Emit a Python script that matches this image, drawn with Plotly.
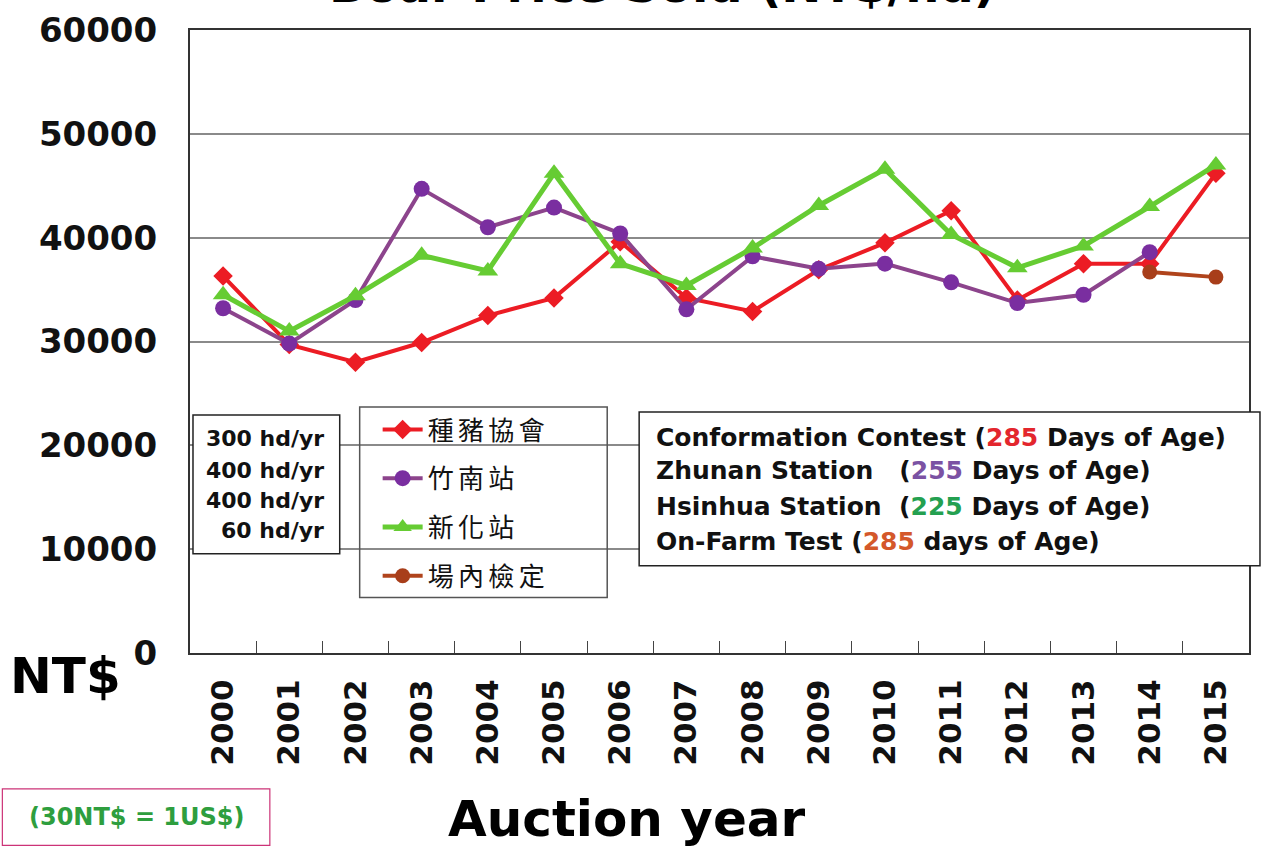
import plotly.graph_objects as go

years = ["2000", "2001", "2002", "2003", "2004", "2005", "2006", "2007",
         "2008", "2009", "2010", "2011", "2012", "2013", "2014", "2015"]

contest = [36300, 29700, 28000, 29900, 32500, 34200, 39600, 34200,
           32900, 36900, 39500, 42600, 34000, 37500, 37500, 46200]
zhunan = [33200, 29800, 34000, 44700, 41000, 42900, 40400, 33100,
          38200, 37000, 37500, 35700, 33700, 34500, 38600]
hsinhua = [34500, 31000, 34400, 38300, 36800, 46200, 37500, 35400,
           39000, 43100, 46600, 40300, 37100, 39200, 43000, 47000]
farm_years = ["2014", "2015"]
farm = [36700, 36200]

names = ["種豬協會", "竹南站", "新化站", "場內檢定"]
herd_sizes = ["300 hd/yr", "400 hd/yr", "400 hd/yr", "60 hd/yr"]
y_ticks = [0, 10000, 20000, 30000, 40000, 50000, 60000]

W, H = 1261, 850
L, R, T, B = 190, 10, 25, 197
FONT = "DejaVu Sans"


def px(x):
    return (x - L) / (W - L - R)


def py(y):
    return (H - B - y) / (H - T - B)


def spaced(s):
    # the legend labels are drawn letter-spaced
    return "\u2006".join(s)


fig = go.Figure()
fig.add_trace(go.Scatter(
    x=years, y=contest, name=spaced(names[0]), mode="lines+markers", legendgroup="a",
    line={"color": "#ec1c24", "width": 4},
    marker={"symbol": "diamond", "size": 15, "color": "#ec1c24"},
))
fig.add_trace(go.Scatter(
    x=years[:len(zhunan)], y=zhunan, name=spaced(names[1]), mode="lines+markers",
    legendgroup="b",
    line={"color": "#8c448c", "width": 4},
    marker={"symbol": "circle", "size": 16, "color": "#7a2ea0"},
))
fig.add_trace(go.Scatter(
    x=years, y=hsinhua, name=spaced(names[2]), mode="lines+markers", legendgroup="c",
    line={"color": "#66cc33", "width": 5},
    marker={"symbol": "triangle-up", "size": 18, "color": "#66cc33"},
))
fig.add_trace(go.Scatter(
    x=farm_years, y=farm, name=spaced(names[3]), mode="lines+markers", legendgroup="d",
    line={"color": "#b0441c", "width": 4},
    marker={"symbol": "circle", "size": 15, "color": "#a83e1a"},
))

shapes = [
    # legend frame (transparent)
    dict(type="rect", xref="paper", yref="paper", x0=px(360), x1=px(608),
         y0=py(405), y1=py(597), line={"color": "#555", "width": 1.5}, layer="above"),
    # herd size box
    dict(type="rect", xref="paper", yref="paper", x0=px(193), x1=px(340),
         y0=py(413), y1=py(553), line={"color": "#222", "width": 1.5},
         fillcolor="white", layer="above"),
    # age box
    dict(type="rect", xref="paper", yref="paper", x0=px(640), x1=px(1262),
         y0=py(410), y1=py(565), line={"color": "#222", "width": 1.5},
         fillcolor="white", layer="above"),
    # exchange rate box
    dict(type="rect", xref="paper", yref="paper", x0=px(2), x1=px(270),
         y0=py(790), y1=py(847), line={"color": "#cc3377", "width": 1.2},
         fillcolor="white", layer="above"),
]


def note(x, y, text, size, color="#111", xanchor="center", yanchor="middle"):
    return dict(x=px(x), y=py(y), xref="paper", yref="paper", text=text,
                showarrow=False, xanchor=xanchor, yanchor=yanchor,
                font={"family": FONT, "size": size, "color": color, "weight": "bold"})


annotations = []
for text, yy in zip(herd_sizes, [437, 469, 499, 530]):
    annotations.append(note(326, yy, text, 22, xanchor="right"))

age_lines = [
    "Conformation Contest (<span style='color:#e3262d'>285</span> Days of Age)",
    "Zhunan Station\u00a0\u00a0\u00a0(<span style='color:#7b52a3'>255</span> Days of Age)",
    "Hsinhua Station\u00a0\u00a0(<span style='color:#24a050'>225</span> Days of Age)",
    "On-Farm Test (<span style='color:#d4582a'>285</span> days of Age)",
]
for text, yy in zip(age_lines, [436, 469, 505, 541]):
    annotations.append(note(655, yy, text, 25, xanchor="left"))

annotations += [
    note(65, 676, "NT$", 50, color="#000"),
    note(628, 820, "Auction year", 50, color="#000"),
    note(136, 818, "(30NT$ = 1US$)", 24, color="#2e9e3e"),
    note(663, 10, "Boar Price Sold (NT$/hd)", 48, color="#000", yanchor="bottom"),
]

fig.update_layout(
    width=W, height=H,
    margin={"l": L, "r": R, "t": T, "b": B},
    plot_bgcolor="white", paper_bgcolor="white",
    showlegend=True,
    legend={
        "x": px(378), "y": py(404), "xanchor": "left", "yanchor": "top",
        "bgcolor": "rgba(0,0,0,0)", "borderwidth": 0, "tracegroupgap": 12,
        "font": {"family": "Noto Sans CJK TC", "size": 26, "color": "#111"},
        "itemwidth": 40,
    },
    shapes=shapes,
    annotations=annotations,
    xaxis={
        "type": "category", "categoryorder": "array", "categoryarray": years,
        "range": [-0.5, 15.5], "showgrid": False,
        "ticks": "inside", "tickson": "boundaries", "ticklen": 12,
        "tickcolor": "#444", "tickwidth": 1.2,
        "tickangle": -90, "ticklabelstandoff": 12,
        "showline": True, "linecolor": "#333", "linewidth": 2, "mirror": True,
        "tickfont": {"family": FONT, "size": 31, "color": "#111", "weight": "bold"},
    },
    yaxis={
        "range": [0, 60000], "tickvals": y_ticks, "tickformat": "d", "ticks": "",
        "showgrid": True, "gridcolor": "#8a8a8a", "gridwidth": 1.5,
        "zeroline": False, "ticklabelstandoff": 24,
        "showline": True, "linecolor": "#333", "linewidth": 2, "mirror": True,
        "tickfont": {"family": FONT, "size": 34, "color": "#111", "weight": "bold"},
    },
)

fig.write_html(
    "out.html",
    config={"displayModeBar": False},
    post_script="document.body.style.margin='0';document.body.style.overflow='hidden';",
)
